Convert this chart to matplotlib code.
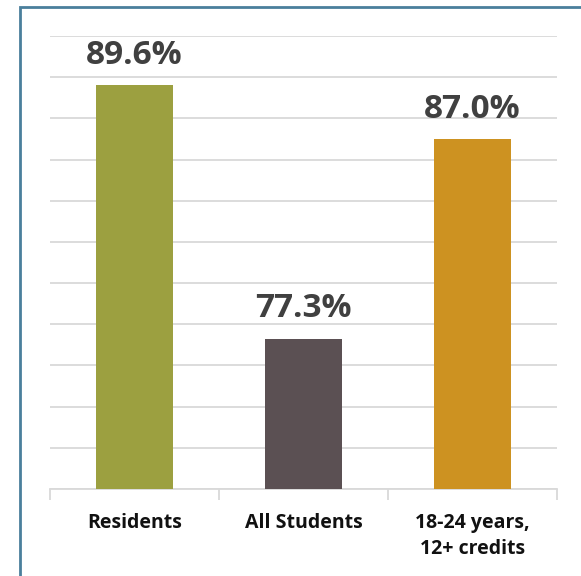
import matplotlib.pyplot as plt
from matplotlib.patches import Rectangle

categories = ['Residents', 'All Students', '18-24 years,\n12+ credits']
values = [89.6, 77.3, 87.0]
colors = ['#9ca040', '#5b5053', '#cd9221']

plt.rcParams['font.family'] = ['Open Sans', 'DejaVu Sans']

fig = plt.figure(figsize=(5.81, 5.76), dpi=100)
ax = fig.add_axes([50 / 581, 1 - 489 / 576, (557 - 50) / 581, (489 - 36) / 576])

x = range(len(categories))
bars = ax.bar(x, values, width=0.46, color=colors, zorder=3)
ax.set_ylim(70, 92)
ax.set_xlim(-0.5, 2.5)
ax.set_yticks(range(70, 93, 2))
ax.yaxis.grid(True, color='#d9d9d9', linewidth=1.3, zorder=0)
ax.tick_params(axis='y', length=0, labelleft=False)

for b, v in zip(bars, values):
    ax.text(b.get_x() + b.get_width() / 2, v + 0.65, f'{v:.1f}%', ha='center', va='bottom',
            fontsize=24, fontweight='bold', color='#404040')

ax.set_xticks([-0.5, 0.5, 1.5, 2.5], minor=False)
ax.set_xticklabels([])
ax.tick_params(axis='x', length=8, color='#d9d9d9', width=1.3)
for i, c in enumerate(categories):
    ax.text(i, 68.85, c, ha='center', va='top', fontsize=14, fontweight='bold',
            color='#111111', linespacing=1.45)

for s in ['top', 'right', 'left']:
    ax.spines[s].set_visible(False)
ax.spines['bottom'].set_color('#d9d9d9')
ax.spines['bottom'].set_linewidth(1.3)

fig.patches.append(Rectangle((20 / 581, -0.1), 1.2, 1 - 7 / 576 + 0.1, transform=fig.transFigure,
                             fill=False, edgecolor='#4a7f9c', linewidth=2))

fig.savefig('out.png', dpi=100)
